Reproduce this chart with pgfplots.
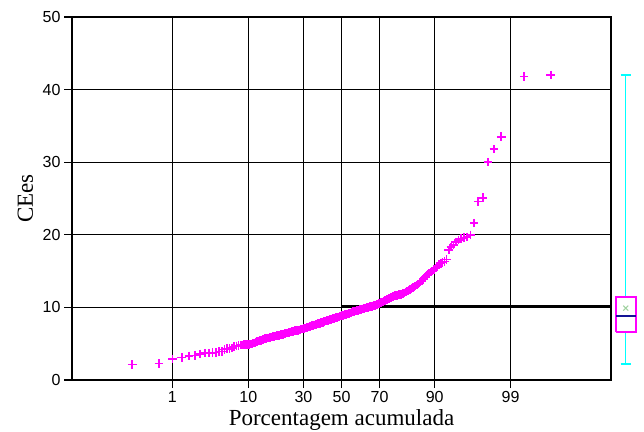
\documentclass[border=0pt]{standalone}
\usepackage{pgfplots}
\pgfplotsset{compat=1.18}
\usepackage{pgfplotstable}
\usepackage{fontspec}
\setmainfont{Liberation Serif}
\newfontfamily\ticksans{Liberation Sans}
\definecolor{pts}{RGB}{255,0,255}
\definecolor{boxc}{RGB}{255,0,255}
\definecolor{whisk}{RGB}{0,255,255}
\definecolor{medc}{RGB}{20,20,150}
\definecolor{meanc}{RGB}{160,210,160}
\definecolor{refg}{RGB}{175,225,175}

\pgfplotstableread{
p y
0.2 2.15
0.6 2.3
1.0 2.9
1.4 3.1
1.8 3.3
2.2 3.4
2.6 3.6
3.0 3.7
3.4 3.7
3.8 3.75
4.2 3.8
4.6 3.9
5.0 3.95
5.4 4.2
5.8 4.3
6.2 4.35
6.6 4.4
7.0 4.6
7.4 4.7
7.8 4.75
8.2 4.8
8.6 4.8
9.0 4.85
9.4 4.9
9.8 4.9
10.2 4.9
10.6 4.95
11.0 5.0
11.4 5.1
11.8 5.2
12.2 5.3
12.6 5.35
13.0 5.4
13.4 5.45
13.8 5.55
14.2 5.6
14.6 5.7
15.0 5.75
15.4 5.8
15.8 5.8
16.2 5.85
16.6 5.9
17.0 5.95
17.4 6.0
17.8 6.0
18.2 6.05
18.6 6.1
19.0 6.1
19.4 6.15
19.8 6.2
20.2 6.25
20.6 6.3
21.0 6.3
21.4 6.35
21.8 6.4
22.2 6.45
22.6 6.5
23.0 6.5
23.4 6.55
23.8 6.6
24.2 6.6
24.6 6.65
25.0 6.7
25.4 6.7
25.8 6.75
26.2 6.8
26.6 6.8
27.0 6.85
27.4 6.85
27.8 6.9
28.2 6.9
28.6 6.95
29.0 7.0
29.4 7.0
29.8 7.05
30.2 7.1
30.6 7.1
31.0 7.15
31.4 7.2
31.8 7.25
32.2 7.3
32.6 7.3
33.0 7.35
33.4 7.4
33.8 7.45
34.2 7.5
34.6 7.5
35.0 7.55
35.4 7.6
35.8 7.6
36.2 7.65
36.6 7.7
37.0 7.7
37.4 7.75
37.8 7.8
38.2 7.8
38.6 7.85
39.0 7.9
39.4 7.9
39.8 7.95
40.2 8.0
40.6 8.05
41.0 8.1
41.4 8.1
41.8 8.15
42.2 8.2
42.6 8.2
43.0 8.25
43.4 8.3
43.8 8.3
44.2 8.35
44.6 8.4
45.0 8.4
45.4 8.45
45.8 8.5
46.2 8.5
46.6 8.55
47.0 8.6
47.4 8.6
47.8 8.65
48.2 8.7
48.6 8.7
49.0 8.75
49.4 8.8
49.8 8.8
50.2 8.85
50.6 8.9
51.0 8.9
51.4 8.95
51.8 9.0
52.2 9.0
52.6 9.05
53.0 9.1
53.4 9.1
53.8 9.15
54.2 9.2
54.6 9.25
55.0 9.25
55.4 9.3
55.8 9.35
56.2 9.4
56.6 9.4
57.0 9.45
57.4 9.5
57.8 9.5
58.2 9.55
58.6 9.6
59.0 9.6
59.4 9.65
59.8 9.7
60.2 9.7
60.6 9.75
61.0 9.8
61.4 9.8
61.8 9.85
62.2 9.85
62.6 9.9
63.0 9.9
63.4 9.95
63.8 10.0
64.2 10.0
64.6 10.05
65.0 10.05
65.4 10.1
65.8 10.1
66.2 10.15
66.6 10.2
67.0 10.2
67.4 10.25
67.8 10.3
68.2 10.35
68.6 10.4
69.0 10.4
69.4 10.45
69.8 10.5
70.2 10.6
70.6 10.65
71.0 10.7
71.4 10.75
71.8 10.85
72.2 10.9
72.6 10.95
73.0 11.0
73.4 11.1
73.8 11.15
74.2 11.2
74.6 11.25
75.0 11.35
75.4 11.4
75.8 11.45
76.2 11.5
76.6 11.55
77.0 11.6
77.4 11.6
77.8 11.65
78.2 11.7
78.6 11.75
79.0 11.8
79.4 11.8
79.8 11.85
80.2 11.9
80.6 12.0
81.0 12.1
81.4 12.15
81.8 12.25
82.2 12.35
82.6 12.45
83.0 12.55
83.4 12.65
83.8 12.75
84.2 12.85
84.6 12.95
85.0 13.1
85.4 13.25
85.8 13.4
86.2 13.55
86.6 13.7
87.0 13.9
87.4 14.1
87.8 14.3
88.2 14.5
88.6 14.65
89.0 14.85
89.4 15.0
89.8 15.2
90.2 15.4
90.6 15.6
91.0 15.9
91.4 16.1
91.8 16.2
92.2 16.3
92.6 16.6
93.0 17.9
93.4 18.3
93.8 18.6
94.2 19.0
94.6 19.3
95.0 19.5
95.4 19.6
95.8 19.7
96.2 20.0
96.6 21.6
97.0 24.6
97.4 25.1
97.8 30.0
98.2 31.8
98.6 33.5
99.4 41.8
99.8 42.0
}\cees

\begin{document}
\begin{tikzpicture}
\path[use as bounding box] (0pt,0pt) rectangle (644pt,431pt);
\begin{axis}[
  at={(72pt,51pt)}, anchor=south west,
  width=539pt, height=363pt, scale only axis,
  x coord trafo/.code={%
    \pgfmathparse{(#1<50) ? ln(#1) : ln(100-#1)}%
    \pgfmathsetmacro\probT{sqrt(-2*(\pgfmathresult-4.605170))}%
    \pgfmathsetmacro\probZ{\probT-(2.515517+0.802853*\probT+0.010328*\probT*\probT)/(1+1.432788*\probT+0.189269*\probT*\probT+0.001308*\probT*\probT*\probT)}%
    \pgfmathparse{(#1<50) ? -\probZ : \probZ}%
  },
  xmin=0.0104, xmax=99.9896,
  ymin=0, ymax=50,
  xtick={1,10,30,50,70,90,99},
  xticklabels={1,10,30,50,70,90,99},
  ytick={0,10,20,30,40,50},
  /pgf/number format/assume math mode=true,
  tick label style={font=\ticksans\fontsize{16}{18}\selectfont},
  grid=major,
  major grid style={black, line width=1.2pt},
  axis line style={black, line width=1.2pt},
  tick style={black, line width=1.2pt},
  tick align=outside,
  tick pos=left,
  major tick length=8pt,
  axis on top,
  xlabel={Porcentagem acumulada},
  ylabel={CEes},
  label style={font=\fontsize{23}{26}\selectfont},
  xlabel style={at={(axis description cs:0.5,-0.124)}, anchor=base},
  ylabel style={at={(axis description cs:-0.0724,0.5)}, anchor=base},
]
\addplot[refg, line width=1pt] coordinates {(50,9.95) (99.9896,9.95)};
\addplot[black, line width=1.2pt] coordinates {(50,10.2) (99.9896,10.2)};
\addplot[black, line width=1.5pt] coordinates {(70,0) (70,50)};
\addplot[only marks, mark=+, mark size=4.3pt, color=pts, mark options={line width=1.6pt}] table[x=p, y=y] {\cees};
\end{axis}
\begin{axis}[
  at={(611pt,51pt)}, anchor=south west,
  width=33pt, height=363pt, scale only axis,
  xmin=0, xmax=33, ymin=0, ymax=50,
  hide axis, clip=false,
]
\addplot[whisk, line width=1.5pt] coordinates {(14.7,2.2) (14.7,6.6)};
\addplot[whisk, line width=1.5pt] coordinates {(14.7,11.4) (14.7,42.0)};
\addplot[whisk, line width=1.5pt] coordinates {(9.5,2.2) (20,2.2)};
\addplot[whisk, line width=1.5pt] coordinates {(9.5,42.0) (20,42.0)};
\addplot[boxc, line width=1.6pt] coordinates {(5,6.6) (24.7,6.6) (24.7,11.4) (5,11.4) (5,6.6)};
\addplot[medc, line width=1.5pt] coordinates {(5,8.8) (24.7,8.8)};
\addplot[only marks, mark=x, mark size=3.5pt, color=meanc, mark options={line width=1pt}] coordinates {(14.7,9.9)};
\end{axis}
\end{tikzpicture}
\end{document}
